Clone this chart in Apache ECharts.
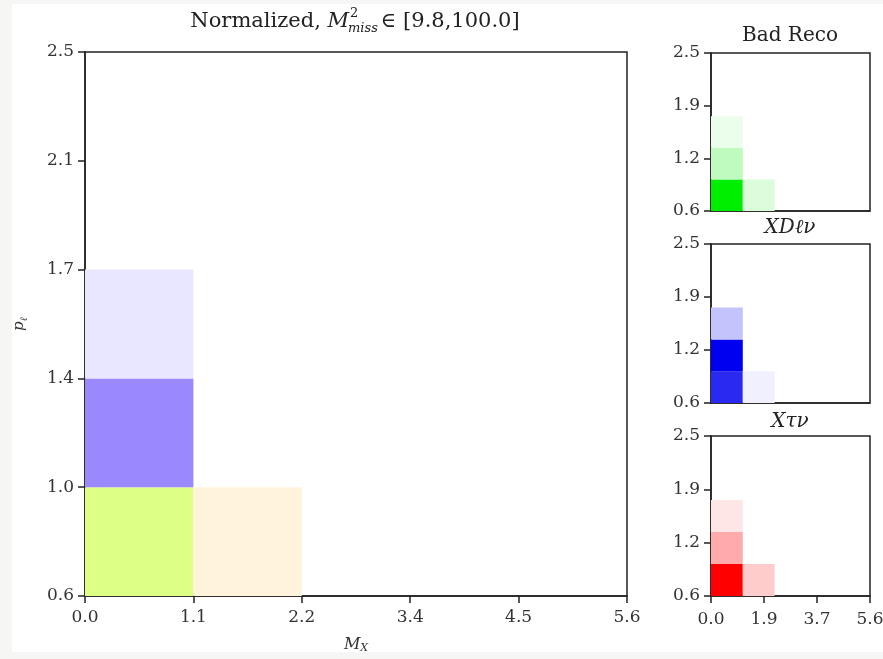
<!DOCTYPE html>
<html><head><meta charset="utf-8">
<script src="https://cdn.jsdelivr.net/npm/echarts@6/dist/echarts.min.js"></script>
<style>html,body{margin:0;padding:0;background:#f6f6f4;width:883px;height:659px;overflow:hidden}
#c{position:absolute;left:12px;top:4px;width:871px;height:648px;background:#fff}</style>
</head><body><div id="c"></div>
<script>
// ---- data ----
const binEdgesX = [0, 1.12, 2.24];
const binEdgesY = [0.6, 0.98, 1.36, 1.74];
const mainCells = [[0,0],[0,1],[0,2],[1,0]];           // [xBin, yBin]
const mainColors = ['#dcff84','#9a88ff','#e9e6ff','#fff4db'];
const badReco = [[0,0,1.00],[0,1,0.25],[0,2,0.08],[1,0,0.14]];   // [xBin, yBin, normalized]
const xDlnu   = [[0,0,0.84],[0,1,1.00],[0,2,0.23],[1,0,0.06]];
const xTaunu  = [[0,0,1.00],[0,1,0.33],[0,2,0.10],[1,0,0.20]];
const mainXTickStep = 1.12;                   // ticks 0.0, 1.1, 2.2, 3.4, 4.5, 5.6
const smallXTickStep = 5.6 / 3;               // ticks 0.0, 1.9, 3.7, 5.6
const mainYTicks = [0.6, 0.98, 1.36, 1.74, 2.12, 2.5];
const smallYTicks = [0.6, 1.2333, 1.8667, 2.5];
const xRange = [0, 5.6], yRange = [0.6, 2.5];
const smallTitles = ['Bad Reco', 'XD\u2113\u03bd', 'X\u03c4\u03bd'];

// ---- helpers ----
const FF = 'DejaVu Serif';
const AX = '#222';
function toRect(c, v) { return [binEdgesX[c[0]], binEdgesX[c[0]+1], binEdgesY[c[1]], binEdgesY[c[1]+1], v]; }
function renderRect(params, api) {
  const p0 = api.coord([api.value(0), api.value(3)]);
  const p1 = api.coord([api.value(1), api.value(2)]);
  return { type: 'rect', shape: { x: p0[0], y: p0[1], width: p1[0]-p0[0], height: p1[1]-p0[1] },
           style: { fill: api.visual('color') } };
}
const fmt = v => (+v).toFixed(1);
function xAxisDef(gi, step, show, margin) {
  return {
    type: 'value', gridIndex: gi, min: xRange[0], max: xRange[1], interval: step,
    axisLine: { show: true, onZero: false, lineStyle: { color: AX, width: 1.5 } },
    axisTick: { show: show, length: 7, lineStyle: { color: AX, width: 1.5 } },
    axisLabel: { show: show, formatter: fmt, showMinLabel: true, showMaxLabel: true,
                 fontFamily: FF, fontSize: 17, color: '#333', margin: margin },
    splitLine: { show: false }
  };
}
function yAxisDef(gi, ticks) {
  return {
    type: 'value', gridIndex: gi, min: yRange[0], max: yRange[1],
    axisLine: { show: true, onZero: false, lineStyle: { color: AX, width: 1.5 } },
    axisTick: { show: true, length: 7, customValues: ticks, lineStyle: { color: AX, width: 1.5 } },
    axisLabel: { show: true, customValues: ticks, formatter: fmt,
                 fontFamily: FF, fontSize: 17, color: '#333', margin: 11 },
    splitLine: { show: false }
  };
}
// page offset of the white figure area is 12,4
const grids = [
  { left: 73, top: 48, width: 542, height: 544 },
  { left: 699, top: 49, width: 159, height: 158 },
  { left: 699, top: 240, width: 159, height: 159 },
  { left: 699, top: 432, width: 159, height: 160 }
].map(g => Object.assign(g, { show: true, borderColor: AX, borderWidth: 1.5, backgroundColor: '#fff',
                              containLabel: false, outerBoundsMode: 'none' }));

const xAxes = [xAxisDef(0, mainXTickStep, true, 13)];
const yAxes = [yAxisDef(0, mainYTicks)];
Object.assign(xAxes[0], { name: '{i|M}{s|X}', nameLocation: 'middle', nameGap: 40,
  nameTextStyle: { rich: { i: { fontFamily: FF, fontStyle: 'italic', fontSize: 16, color: '#333', lineHeight: 18 },
                           s: { fontFamily: FF, fontStyle: 'italic', fontSize: 11, color: '#333', lineHeight: 11, verticalAlign: 'bottom' } } } });
Object.assign(yAxes[0], { name: '{i|p}{s|\u2113}', nameLocation: 'middle', nameGap: 56,
  nameTextStyle: { rich: { i: { fontFamily: FF, fontStyle: 'italic', fontSize: 15, color: '#333', lineHeight: 20 },
                           s: { fontFamily: FF, fontStyle: 'italic', fontSize: 10, color: '#333', lineHeight: 12, verticalAlign: 'bottom' } } } });
for (let k = 1; k <= 3; k++) {
  xAxes.push(xAxisDef(k, smallXTickStep, k === 3, 15));
  yAxes.push(yAxisDef(k, smallYTicks));
}

const series = [
  { type: 'custom', xAxisIndex: 0, yAxisIndex: 0, renderItem: renderRect, encode: { x: [0,1], y: [2,3] },
    data: mainCells.map((c, i) => ({ value: toRect(c, 1), itemStyle: { color: mainColors[i] } })) },
  { type: 'custom', xAxisIndex: 1, yAxisIndex: 1, renderItem: renderRect, encode: { x: [0,1], y: [2,3] },
    data: badReco.map(d => toRect(d, d[2])) },
  { type: 'custom', xAxisIndex: 2, yAxisIndex: 2, renderItem: renderRect, encode: { x: [0,1], y: [2,3] },
    data: xDlnu.map(d => toRect(d, d[2])) },
  { type: 'custom', xAxisIndex: 3, yAxisIndex: 3, renderItem: renderRect, encode: { x: [0,1], y: [2,3] },
    data: xTaunu.map(d => toRect(d, d[2])) }
];
const visualMap = [
  { show: false, seriesIndex: 1, dimension: 4, min: 0, max: 1, inRange: { color: ['#ffffff', '#00ee00'] } },
  { show: false, seriesIndex: 2, dimension: 4, min: 0, max: 1, inRange: { color: ['#ffffff', '#0000f0'] } },
  { show: false, seriesIndex: 3, dimension: 4, min: 0, max: 1, inRange: { color: ['#ffffff', '#ff0000'] } }
];

// title layout (stacked sup/sub)
const ctx = document.createElement('canvas').getContext('2d');
function tw(t, f) { ctx.font = f; return ctx.measureText(t).width; }
const TS = 21, SS = 13;
const p1 = 'Normalized, ', p3 = '\u2208 [9.8,100.0]';
const w1 = tw(p1, `${TS}px "${FF}"`), wM = tw('M', `italic ${TS}px "${FF}"`);
const wS = tw('miss', `italic ${SS}px "${FF}"`), w3 = tw(p3, `${TS}px "${FF}"`);
const tx0 = 343 - (w1 + wM + wS + 2 + w3) / 2;
const tStyle = (t, x, y, fs, it) => ({ type: 'text', x: x, y: y,
  style: { text: t, fontFamily: FF, fontSize: fs, fontStyle: it ? 'italic' : 'normal', fill: '#222', verticalAlign: 'middle', align: 'left' } });
const graphic = [
  tStyle(p1, tx0, 18, TS, false),
  tStyle('M', tx0 + w1, 18, TS, true),
  tStyle('2', tx0 + w1 + wM + 1, 10, SS, false),
  tStyle('miss', tx0 + w1 + wM - 1, 25, SS, true),
  tStyle(p3, tx0 + w1 + wM + wS + 2, 18, TS, false)
];
const stTops = [32, 224, 418];
smallTitles.forEach((t, i) => {
  graphic.push({ type: 'text', x: 778, y: stTops[i],
    style: { text: t, fontFamily: FF, fontSize: 20, fontStyle: i === 0 ? 'normal' : 'italic', fill: '#222', align: 'center', verticalAlign: 'middle' } });
});

const chart = echarts.init(document.getElementById('c'), null, { renderer: 'canvas' });
chart.setOption({
  backgroundColor: '#ffffff',
  animation: false,
  grid: grids, xAxis: xAxes, yAxis: yAxes, series: series, visualMap: visualMap, graphic: graphic
});
</script></body></html>
